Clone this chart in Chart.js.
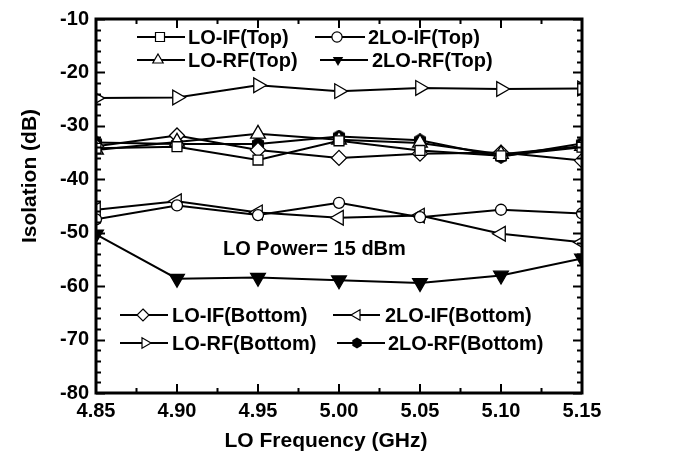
<!DOCTYPE html>
<html>
<head>
<meta charset="utf-8">
<script src="https://cdn.jsdelivr.net/npm/chart.js@4.4.1/dist/chart.umd.min.js"></script>
<style>
  html, body { margin: 0; padding: 0; background: #fff; }
  #wrap { width: 692px; height: 461px; }
</style>
</head>
<body>
<div id="wrap"><canvas id="chart" width="692" height="461"></canvas></div>
<script>
// Data
const freqLabels = ['4.85', '4.90', '4.95', '5.00', '5.05', '5.10', '5.15'];
const yTicks = [-80, -70, -60, -50, -40, -30, -20, -10];

const loIfTop       = [-34.2, -33.9, -36.4, -32.8, -34.6, -35.6, -34.0];
const twoLoIfTop    = [-47.5, -44.9, -46.7, -44.4, -47.1, -45.7, -46.4];
const loRfTop       = [-34.5, -33.0, -31.5, -32.6, -33.2, -35.3, -33.8];
const twoLoRfTop    = [-50.3, -58.6, -58.4, -58.9, -59.4, -58.0, -54.8];
const loIfBottom    = [-33.8, -31.8, -34.5, -36.0, -35.2, -35.0, -36.5];
const twoLoIfBottom = [-45.7, -44.1, -46.2, -47.2, -46.8, -50.2, -51.8];
const loRfBottom    = [-24.8, -24.7, -22.4, -23.5, -22.9, -23.1, -23.0];
const twoLoRfBottom = [-33.1, -33.4, -33.4, -32.0, -32.7, -35.8, -33.3];

const FONT = '"Liberation Sans", Arial, Helvetica, sans-serif';

// filled hexagon used as point style
function makeHex(size) {
    const c = document.createElement('canvas');
    c.width = size; c.height = size;
    const g = c.getContext('2d');
    const r = size / 2;
    g.beginPath();
    for (let k = 0; k < 6; k++) {
        const a = -Math.PI / 2 + k * Math.PI / 3;
        const px = r + Math.cos(a) * r, py = r + Math.sin(a) * r;
        if (k === 0) g.moveTo(px, py); else g.lineTo(px, py);
    }
    g.closePath();
    g.fillStyle = '#000';
    g.fill();
    return c;
}
const hexImg = makeHex(14);

function series(label, data, style, opts) {
    return Object.assign({
        label: label,
        data: data,
        borderColor: '#000',
        borderWidth: 2,
        pointStyle: style,
        pointRadius: 7,
        pointBorderWidth: 1.3,
        pointBorderColor: '#000',
        pointBackgroundColor: '#fff',
        tension: 0,
        clip: 0
    }, opts || {});
}

// Legend + frame + annotations drawn over the chart
function drawMarker(ctx, kind, x, y, r) {
    ctx.save();
    ctx.lineWidth = 1.2;
    ctx.strokeStyle = '#000';
    ctx.fillStyle = '#fff';
    ctx.beginPath();
    const tri = (rot) => {
        for (let k = 0; k < 3; k++) {
            const a = rot + k * 2 * Math.PI / 3;
            const px = x + Math.cos(a) * r, py = y + Math.sin(a) * r;
            if (k === 0) ctx.moveTo(px, py); else ctx.lineTo(px, py);
        }
        ctx.closePath();
    };
    let filled = false;
    if (kind === 'square') {
        const s = r * 0.75;
        ctx.rect(x - s, y - s, 2 * s, 2 * s);
    } else if (kind === 'circle') {
        ctx.arc(x, y, r * 0.85, 0, Math.PI * 2);
    } else if (kind === 'triUp') {
        tri(-Math.PI / 2);
    } else if (kind === 'triDown') {
        tri(Math.PI / 2); filled = true;
    } else if (kind === 'triLeft') {
        tri(Math.PI);
    } else if (kind === 'triRight') {
        tri(0);
    } else if (kind === 'diamond') {
        ctx.moveTo(x, y - r); ctx.lineTo(x + r, y); ctx.lineTo(x, y + r); ctx.lineTo(x - r, y);
        ctx.closePath();
    } else if (kind === 'hex') {
        for (let k = 0; k < 6; k++) {
            const a = -Math.PI / 2 + k * Math.PI / 3;
            const px = x + Math.cos(a) * r * 0.9, py = y + Math.sin(a) * r * 0.9;
            if (k === 0) ctx.moveTo(px, py); else ctx.lineTo(px, py);
        }
        ctx.closePath();
        filled = true;
    }
    if (filled) { ctx.fillStyle = '#000'; ctx.fill(); }
    else { ctx.fill(); ctx.stroke(); }
    ctx.restore();
}

const legendItems = [
    { x1: 137, x2: 185, mx: 160, tx: 188, y: 37, kind: 'square', text: 'LO-IF(Top)' },
    { x1: 315, x2: 365, mx: 337, tx: 368, y: 37, kind: 'circle', text: '2LO-IF(Top)' },
    { x1: 137, x2: 185, mx: 158, tx: 188, y: 60, kind: 'triUp', text: 'LO-RF(Top)' },
    { x1: 320, x2: 368, mx: 338, tx: 372, y: 60, kind: 'triDown', text: '2LO-RF(Top)' },
    { x1: 120, x2: 168, mx: 143, tx: 172, y: 315, kind: 'diamond', text: 'LO-IF(Bottom)' },
    { x1: 333, x2: 380, mx: 357, tx: 385, y: 315, kind: 'triLeft', text: '2LO-IF(Bottom)' },
    { x1: 120, x2: 168, mx: 145, tx: 172, y: 343, kind: 'triRight', text: 'LO-RF(Bottom)' },
    { x1: 337, x2: 385, mx: 357, tx: 388, y: 343, kind: 'hex', text: '2LO-RF(Bottom)' }
];

const overlayPlugin = {
    id: 'overlay',
    afterDraw(chart) {
        const ctx = chart.ctx;
        const area = chart.chartArea;
        const xs = chart.scales.x, ys = chart.scales.y;
        ctx.save();
        ctx.strokeStyle = '#000';

        // inward ticks on all four sides
        ctx.lineWidth = 2;
        ctx.beginPath();
        for (let v = -80; v <= -10; v += 2) {
            const py = Math.round(ys.getPixelForValue(v)) + 0.5;
            const len = (v % 10 === 0) ? 9 : 5;
            ctx.moveTo(area.left, py); ctx.lineTo(area.left + len, py);
            ctx.moveTo(area.right, py); ctx.lineTo(area.right - len, py);
        }
        for (let i = 0; i < freqLabels.length; i++) {
            const px = xs.getPixelForValue(i);
            ctx.moveTo(px, area.bottom); ctx.lineTo(px, area.bottom - 9);
            ctx.moveTo(px, area.top); ctx.lineTo(px, area.top + 9);
            if (i < freqLabels.length - 1) {
                const mx = (px + xs.getPixelForValue(i + 1)) / 2;
                ctx.moveTo(mx, area.bottom); ctx.lineTo(mx, area.bottom - 5);
                ctx.moveTo(mx, area.top); ctx.lineTo(mx, area.top + 5);
            }
        }
        ctx.stroke();

        // frame
        ctx.lineWidth = 3;
        ctx.strokeRect(area.left, area.top, area.right - area.left, area.bottom - area.top);

        // legends
        ctx.fillStyle = '#000';
        ctx.font = 'bold 20px ' + FONT;
        ctx.textBaseline = 'middle';
        ctx.textAlign = 'left';
        legendItems.forEach(it => {
            ctx.lineWidth = 2;
            ctx.beginPath();
            ctx.moveTo(it.x1, it.y); ctx.lineTo(it.x2, it.y);
            ctx.stroke();
            drawMarker(ctx, it.kind, it.mx, it.y, 6);
            ctx.fillStyle = '#000';
            ctx.fillText(it.text, it.tx, it.y + 1);
        });

        // annotation
        ctx.fillText('LO Power= 15 dBm', 223, 249);

        // axis titles
        ctx.textAlign = 'center';
        ctx.font = 'bold 21px ' + FONT;
        ctx.fillText('LO Frequency (GHz)', 326, 441);
        ctx.save();
        ctx.translate(30, 176);
        ctx.rotate(-Math.PI / 2);
        ctx.fillText('Isolation (dB)', 0, 0);
        ctx.restore();

        ctx.restore();
    }
};

new Chart(document.getElementById('chart'), {
    type: 'line',
    data: {
        labels: freqLabels,
        datasets: [
            series('LO-IF(Top)', loIfTop, 'rect', { pointRadius: 7 }),
            series('2LO-IF(Top)', twoLoIfTop, 'circle', { pointRadius: 5.5 }),
            series('LO-RF(Top)', loRfTop, 'triangle', { pointRadius: 8.5 }),
            series('2LO-RF(Top)', twoLoRfTop, 'triangle', { pointRadius: 8.5, pointRotation: 180, pointBackgroundColor: '#000' }),
            series('LO-IF(Bottom)', loIfBottom, 'rectRot', { pointRadius: 7.5 }),
            series('2LO-IF(Bottom)', twoLoIfBottom, 'triangle', { pointRadius: 8.5, pointRotation: 270 }),
            series('LO-RF(Bottom)', loRfBottom, 'triangle', { pointRadius: 8.5, pointRotation: 90 }),
            series('2LO-RF(Bottom)', twoLoRfBottom, hexImg, {})
        ]
    },
    options: {
        responsive: false,
        animation: false,
        events: [],
        layout: { padding: { left: 0, right: 110, top: 14, bottom: 0 } },
        plugins: {
            legend: { display: false },
            tooltip: { enabled: false }
        },
        scales: {
            x: {
                type: 'category',
                offset: false,
                grid: { display: false, drawTicks: false },
                border: { display: false },
                ticks: {
                    color: '#000',
                    padding: 6,
                    maxRotation: 0,
                    autoSkip: false,
                    font: { family: FONT, size: 20, weight: 'bold' }
                },
                afterFit(scale) { scale.height = 68; }
            },
            y: {
                min: -80,
                max: -10,
                grid: { display: false, drawTicks: false },
                border: { display: false },
                afterBuildTicks(scale) { scale.ticks = yTicks.map(v => ({ value: v })); },
                ticks: {
                    color: '#000',
                    padding: 7,
                    font: { family: FONT, size: 20, weight: 'bold' }
                },
                afterFit(scale) { scale.width = 96; }
            }
        }
    },
    plugins: [overlayPlugin]
});
</script>
</body>
</html>
